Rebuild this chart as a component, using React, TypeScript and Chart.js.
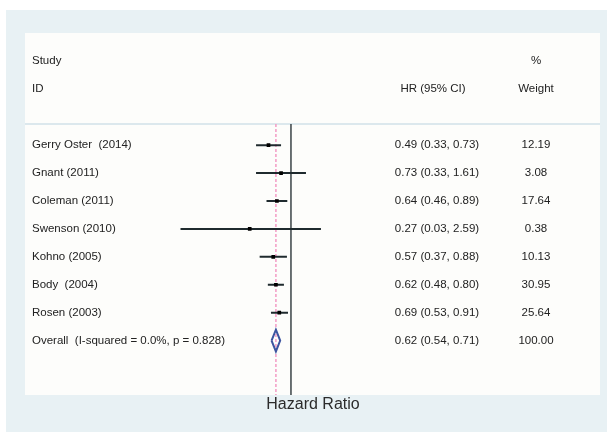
import React, { useEffect, useRef } from "react";
import { Chart, registerables } from "chart.js";

Chart.register(...registerables);

const studies = [
  "Gerry Oster  (2014)",
  "Gnant (2011)",
  "Coleman (2011)",
  "Swenson (2010)",
  "Kohno (2005)",
  "Body  (2004)",
  "Rosen (2003)",
];
const hr = [0.49, 0.73, 0.64, 0.27, 0.57, 0.62, 0.69];
const lo = [0.33, 0.33, 0.46, 0.03, 0.37, 0.48, 0.53];
const hi = [0.73, 1.61, 0.89, 2.59, 0.88, 0.8, 0.91];
const weights = [12.19, 3.08, 17.64, 0.38, 10.13, 30.95, 25.64];

const overallLabel = "Overall  (I-squared = 0.0%, p = 0.828)";
const overallHr = 0.62;
const overallLo = 0.54;
const overallHi = 0.71;
const overallWeight = 100.0;

const headerLeft = ["Study", "ID"];
const headerHr = "HR (95% CI)";
const headerWeight = ["%", "Weight"];
const axisTitle = "Hazard Ratio";

const FONT = '"Liberation Sans", Arial, Helvetica, sans-serif';
const TEXT = "#222222";

export default function App() {
  const ref = useRef<HTMLCanvasElement | null>(null);

  useEffect(() => {
    if (!ref.current) return;
    const nRows = studies.length + 1;
    const yMin = -0.76;
    const yMax = 8.95;

    const datasets: any[] = [];
    // reference line at HR = 1
    datasets.push({
      type: "line",
      order: 4,
      data: [
        { x: 1, y: yMin },
        { x: 1, y: yMax },
      ],
      borderColor: "#3a4347",
      borderWidth: 1.5,
      pointRadius: 0,
    });
    // dashed overall line
    datasets.push({
      type: "line",
      order: 3,
      data: [
        { x: overallHr, y: yMin },
        { x: overallHr, y: yMax },
      ],
      borderColor: "#f39bc4",
      borderWidth: 1.5,
      borderDash: [3, 2],
      pointRadius: 0,
    });
    // CI lines
    studies.forEach((_, i) => {
      datasets.push({
        type: "line",
        order: 2,
        data: [
          { x: lo[i], y: i },
          { x: hi[i], y: i },
        ],
        borderColor: "#1f2a2e",
        borderWidth: 2,
        pointRadius: 0,
      });
    });
    // point estimates
    datasets.push({
      type: "scatter",
      order: 0,
      data: studies.map((_, i) => ({ x: hr[i], y: i })),
      pointStyle: "rect",
      pointRadius: 2.6,
      backgroundColor: "#000",
      borderColor: "#000",
      borderWidth: 0,
    });
    // overall diamond
    const oi = studies.length;
    datasets.push({
      type: "line",
      order: 1,
      data: [
        { x: overallLo, y: oi },
        { x: overallHr, y: oi - 0.39 },
        { x: overallHi, y: oi },
        { x: overallHr, y: oi + 0.39 },
        { x: overallLo, y: oi },
      ],
      borderColor: "#3d55a0",
      borderWidth: 2,
      pointRadius: 0,
      tension: 0,
    });

    const bgPlugin = {
      id: "bg",
      beforeDraw(chart: any) {
        const ctx = chart.ctx;
        ctx.save();
        ctx.fillStyle = "#ffffff";
        ctx.fillRect(0, 0, 607, 432);
        ctx.fillStyle = "#e8f1f4";
        ctx.fillRect(6, 10, 601, 422);
        ctx.fillStyle = "#fdfdfb";
        ctx.fillRect(25, 33, 575, 362);
        ctx.fillStyle = "#dce8ed";
        ctx.fillRect(25, 123, 575, 2);
        ctx.restore();
      },
      afterDraw(chart: any) {
        const ctx = chart.ctx;
        const ys = chart.scales.y;
        ctx.save();
        ctx.fillStyle = TEXT;
        ctx.textBaseline = "middle";
        ctx.font = `11.5px ${FONT}`;
        ctx.textAlign = "left";
        ctx.fillText(headerLeft[0], 32, 61);
        ctx.fillText(headerLeft[1], 32, 89);
        ctx.textAlign = "center";
        ctx.fillText(headerHr, 433, 89);
        ctx.fillText(headerWeight[0], 536, 61);
        ctx.fillText(headerWeight[1], 536, 89);
        for (let i = 0; i < nRows; i++) {
          const y = ys.getPixelForValue(i);
          const isOverall = i === studies.length;
          const label = isOverall ? overallLabel : studies[i];
          const h = isOverall ? overallHr : hr[i];
          const l = isOverall ? overallLo : lo[i];
          const u = isOverall ? overallHi : hi[i];
          const w = isOverall ? overallWeight : weights[i];
          ctx.textAlign = "left";
          ctx.fillText(label, 32, y);
          ctx.textAlign = "center";
          ctx.fillText(`${h.toFixed(2)} (${l.toFixed(2)}, ${u.toFixed(2)})`, 437, y);
          ctx.fillText(w.toFixed(2), 536, y);
        }
        ctx.font = `16px ${FONT}`;
        ctx.fillStyle = "#2b2b2b";
        ctx.textAlign = "center";
        ctx.fillText(axisTitle, 313, 405);
        ctx.restore();
      },
    };

    const chart = new Chart(ref.current, {
      type: "scatter",
      data: { datasets },
      options: {
        animation: false,
        responsive: false,
        maintainAspectRatio: false,
        layout: { padding: { left: 145.9, right: 243.5, top: 124, bottom: 37 } },
        plugins: { legend: { display: false }, tooltip: { enabled: false } },
        scales: {
          x: { type: "logarithmic", min: 0.01, max: 10, display: false },
          y: { type: "linear", min: yMin, max: yMax, reverse: true, display: false },
        },
      },
      plugins: [bgPlugin],
    } as any);
    return () => chart.destroy();
  }, []);

  return (
    <div style={{ position: "absolute", left: 0, top: 0, width: 607, height: 432 }}>
      <canvas ref={ref} width={607} height={432} style={{ width: 607, height: 432 }} />
    </div>
  );
}
